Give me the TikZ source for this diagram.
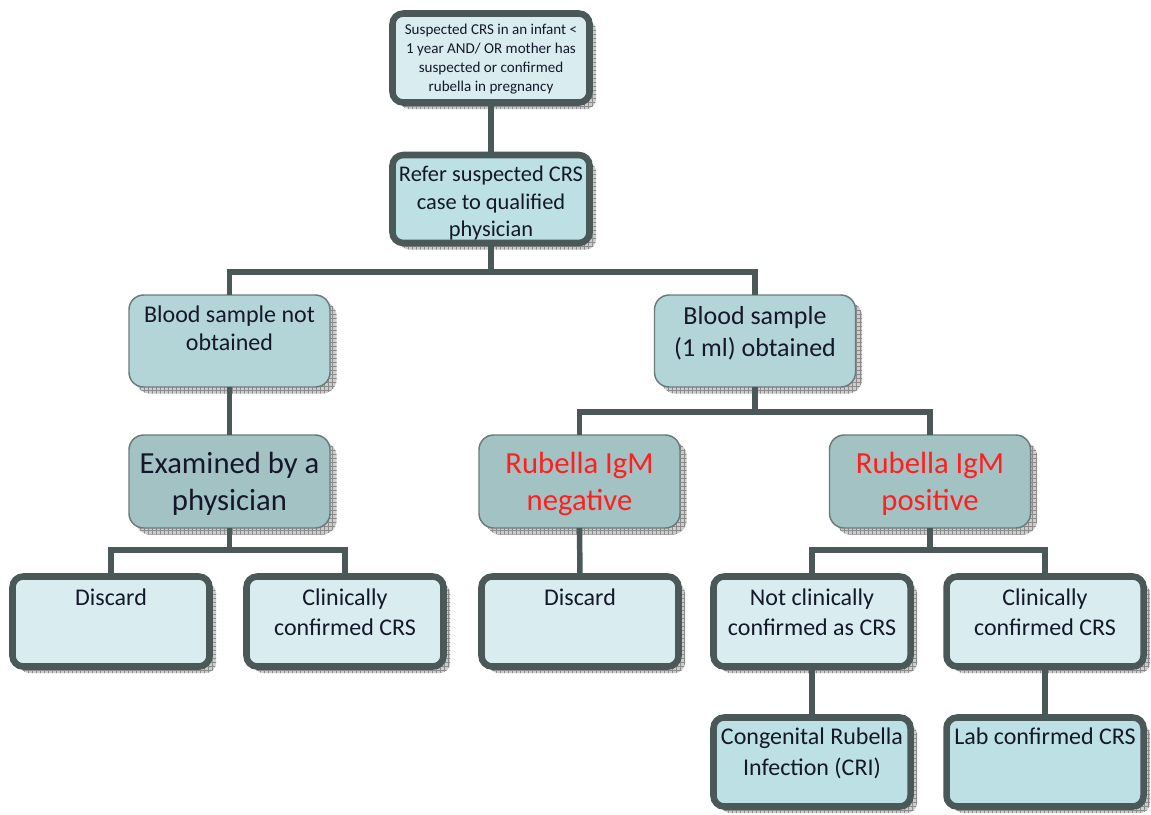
\documentclass[tikz,border=0pt]{standalone}
\usepackage{fontspec}
\setmainfont{Carlito}
\usetikzlibrary{shadows,patterns}
\definecolor{bord}{HTML}{4A5858}
\definecolor{thinb}{HTML}{6B7B7C}
\definecolor{fillA}{HTML}{D9EDF0}
\definecolor{fillB}{HTML}{BDE0E4}
\definecolor{fillC}{HTML}{B4D5D8}
\definecolor{fillD}{HTML}{A3C2C4}
\definecolor{txt}{HTML}{15182A}
\definecolor{redt}{HTML}{FF1F1F}
\newdimen\pxu \pxu=0.75pt
\newcommand\fs{\fontsize{11.3}{14.3}\selectfont}
\newcommand\fm{\fontsize{16.8}{20.5}\selectfont}
\newcommand\fc{\fontsize{18}{21}\selectfont}
\newcommand\fd{\fontsize{19.5}{24}\selectfont}
\newcommand\fb{\fontsize{18}{22.5}\selectfont}
\newcommand\fe{\fontsize{18}{23}\selectfont}
\newcommand\fl{\fontsize{23}{27.5}\selectfont}
% height, inner pos, width, font, top gap, text
\newcommand\bx[6]{\parbox[c][#1\pxu][#2]{#3\pxu}{#4\centering\vspace*{#5\pxu}\strut #6}}
\tikzset{
  shadowed/.style={
    drop shadow={shadow xshift=5pt,shadow yshift=-5pt,fill=black!20,opacity=1},
    drop shadow={shadow xshift=5pt,shadow yshift=-5pt,pattern=grid,pattern color=black!45,opacity=1}},
  thkbox/.style={draw=bord, line width=4.9pt, rounded corners=8pt, inner sep=0pt, outer sep=0pt, shadowed, text=txt},
  thnbox/.style={draw=thinb, line width=1.1pt, rounded corners=11pt, inner sep=0pt, outer sep=0pt, shadowed, text=txt},
  conn/.style={draw=bord, line width=4.1pt},
}
\begin{document}
\begin{tikzpicture}[x=0.75pt,y=-0.75pt]
\useasboundingbox (0,0) rectangle (1151,814);
% row 1-2
\node[thkbox, fill=fillA] (b1) at (491,58) {\bx{89}{c}{197}{\fs}{0}{Suspected CRS in an infant <\\1 year AND/ OR mother has\\suspected or confirmed\\rubella in pregnancy}};
\node[thkbox, fill=fillB] (b2) at (491,199) {\bx{88}{t}{197}{\fm}{7.8}{Refer suspected CRS\\case to qualified\\physician}};
% row 3
\node[thnbox, fill=fillC] (b3) at (229.5,341) {\bx{92}{t}{201}{\fc}{8.3}{Blood sample not\\obtained}};
\node[thnbox, fill=fillC] (b4) at (755,341) {\bx{92}{t}{201}{\fd}{7.2}{Blood sample\\(1 ml) obtained}};
% row 4
\node[thnbox, fill=fillD] (b5) at (229.5,481.5) {\bx{93}{c}{201}{\fl}{0}{Examined by a\\physician}};
\node[thnbox, fill=fillD, text=redt] (b6) at (579.5,481.5) {\bx{93}{c}{201}{\fl}{0}{Rubella IgM\\negative}};
\node[thnbox, fill=fillD, text=redt] (b7) at (930,481.5) {\bx{93}{c}{201}{\fl}{0}{Rubella IgM\\positive}};
% row 5
\node[thkbox, fill=fillA] (b8) at (111,621.5) {\bx{90}{t}{197}{\fb}{8.4}{Discard}};
\node[thkbox, fill=fillA] (b9) at (345,621.5) {\bx{90}{t}{197}{\fb}{8.4}{Clinically\\confirmed CRS}};
\node[thkbox, fill=fillA] (b10) at (580,621.5) {\bx{90}{t}{197}{\fb}{8.4}{Discard}};
\node[thkbox, fill=fillA] (b11) at (812,621.5) {\bx{90}{t}{197}{\fb}{8.4}{Not clinically\\confirmed as CRS}};
\node[thkbox, fill=fillA] (b12) at (1045,621.5) {\bx{90}{t}{197}{\fb}{8.4}{Clinically\\confirmed CRS}};
% row 6
\node[thkbox, fill=fillB] (b13) at (812,762) {\bx{89}{t}{197}{\fe}{5.9}{Congenital Rubella\\Infection (CRI)}};
\node[thkbox, fill=fillB] (b14) at (1045,762) {\bx{89}{t}{197}{\fe}{5.9}{Lab confirmed CRS}};
% connectors
\coordinate (j1) at (491,272);
\coordinate (j2) at (755,412);
\coordinate (j3) at (229.5,550);
\coordinate (j4) at (930,550);
\draw[conn] (b1.south) -- (b2.north);
\draw[conn] (b2.south) -- (j1);
\draw[conn] (b3.north) |- (j1) -| (b4.north);
\draw[conn] (b3.south) -- (b5.north);
\draw[conn] (b4.south) -- (j2);
\draw[conn] (b6.north) |- (j2) -| (b7.north);
\draw[conn] (b5.south) -- (j3);
\draw[conn] (b8.north) |- (j3) -| (b9.north);
\draw[conn] (b6.south) -- (b10.north);
\draw[conn] (b7.south) -- (j4);
\draw[conn] (b11.north) |- (j4) -| (b12.north);
\draw[conn] (b11.south) -- (b13.north);
\draw[conn] (b12.south) -- (b14.north);
\end{tikzpicture}
\end{document}
